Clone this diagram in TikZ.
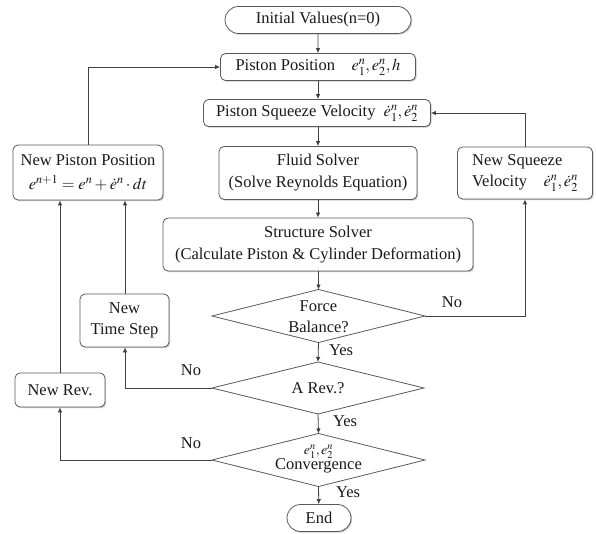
\documentclass[tikz,border=0pt]{standalone}
\usepackage{mathptmx}
\usepackage{fontspec}
\setmainfont{Liberation Serif}
\usetikzlibrary{shapes.geometric,shapes.misc,arrows.meta,shadows}
\tikzset{
  txt/.style={font=\fontsize{16.5}{21}\selectfont, text=black!90},
  boxshadow/.style={drop shadow={shadow xshift=1.2pt, shadow yshift=-1.2pt, fill=black!35, opacity=0.6}},
  box/.style={txt, rectangle, rounded corners=5pt, draw=black!65, line width=0.8pt, fill=white, align=center, inner sep=2pt, boxshadow},
  term/.style={txt, rounded rectangle, draw=black!65, line width=0.8pt, fill=white, inner sep=2pt, boxshadow},
  dia/.style={diamond, draw=black!65, line width=0.8pt, fill=white, inner sep=0pt, outer sep=0pt},
  dtxt/.style={txt, align=center, inner sep=0pt},
  lbl/.style={txt, inner sep=1pt},
  arr/.style={-{Latex[length=5pt,width=4.5pt]}, draw=black!75, line width=0.8pt},
}
\begin{document}
\begin{tikzpicture}[x=1pt,y=-1pt]
\useasboundingbox (0,0) rectangle (596,534);
% main column
\node[term, minimum width=190pt, minimum height=27pt] (init) at (318,20) {Initial Values(n=0)};
\node[box, minimum width=195pt, minimum height=27pt] (pp) at (318,67) {Piston Position\quad $e_1^n,e_2^n,h$};
\node[box, minimum width=227pt, minimum height=27pt] (psv) at (317,113) {Piston Squeeze Velocity\ \ $\dot{e}_1^n,\dot{e}_2^n$};
\node[box, minimum width=198pt, minimum height=53pt] (fs) at (318,173) {Fluid Solver\\[1pt](Solve Reynolds Equation)};
\node[box, minimum width=310pt, minimum height=53pt] (ss) at (318,244.5) {Structure Solver\\[1pt](Calculate Piston \& Cylinder Deformation)};
\node[dia, minimum width=213pt, minimum height=53pt] (fb) at (318.5,316) {};
\node[dtxt] (fbt) at (318.5,317) {Force\\Balance?};
\node[dia, minimum width=212pt, minimum height=52pt] (ar) at (318,388) {};
\node[dtxt] (art) at (318,388) {A Rev.?};
\node[dia, minimum width=213pt, minimum height=53pt] (cv) at (318.5,460) {};
\node[dtxt] (cvt) at (318.5,459) {{\fontsize{14}{14}\selectfont $e_1^n,e_2^n$}\\[-6pt]Convergence};
\node[term, minimum width=68pt, minimum height=27pt] (end) at (319,518) {End};
% side boxes
\node[box, minimum width=135pt, minimum height=52pt, align=left] (nsv) at (525,173) {New Squeeze\\Velocity\quad $\dot{e}_1^n,\dot{e}_2^n$};
\node[box, minimum width=150pt, minimum height=55pt] (npp) at (88,172.5) {New Piston Position\\[3pt]$e^{n+1}=e^n+\dot{e}^n\cdot dt$};
\node[box, minimum width=89pt, minimum height=53pt] (nts) at (124.5,320.5) {New\\Time Step};
\node[box, minimum width=90pt, minimum height=34pt] (nr) at (60,390) {New Rev.};
% corner coordinates
\coordinate (c1) at (525,316);
\coordinate (c2) at (525,113);
\coordinate (c3) at (125,388);
\coordinate (c4) at (60,460);
\coordinate (c5) at (88,67);
% main flow
\draw[arr] (init) -- (pp);
\draw[arr] (pp) -- (psv.north -| pp.south);
\draw[arr] (psv.south -| fs.north) -- (fs);
\draw[arr] (fs) -- (ss);
\draw[arr] (ss.south -| fb.north) -- (fb.north);
\draw[arr] (fb.south) -- (ar.north);
\draw[arr] (ar.south) -- (cv.north);
\draw[arr] (cv.south) -- (end);
% loops
\draw[arr] (fb.east) -- (c1) -- (nsv.south);
\draw[arr] (nsv.north) -- (c2) -- (psv.east);
\draw[arr] (ar.west) -- (c3) -- (nts.south -| c3);
\draw[arr] (nts.north -| c3) -- (npp.south -| c3);
\draw[arr] (cv.west) -- (c4) -- (nr.south);
\draw[arr] (nr.north) -- (npp.south -| nr.north);
\draw[arr] (npp.north -| c5) -- (c5) -- (pp.west);
% labels
\node[lbl] (no1) at (452,302) {No};
\node[lbl] (yes1) at (341,350) {Yes};
\node[lbl] (no2) at (191,370) {No};
\node[lbl] (yes2) at (345,421) {Yes};
\node[lbl] (no3) at (191,443) {No};
\node[lbl] (yes3) at (348,492) {Yes};
\end{tikzpicture}
\end{document}
